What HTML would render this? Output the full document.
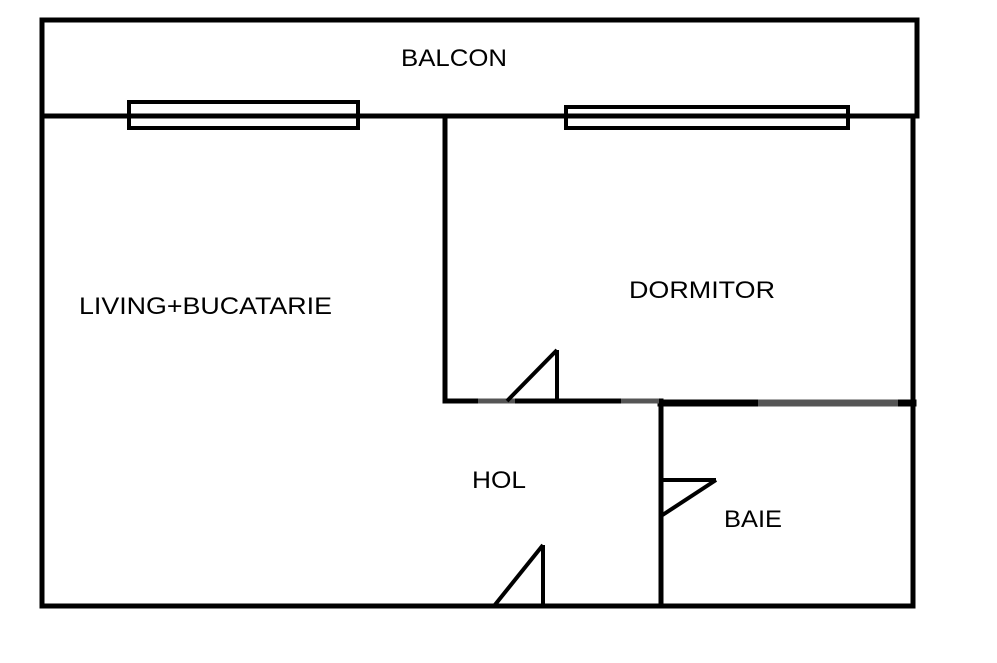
<!DOCTYPE html>
<html><head><style>
body{margin:0;background:#fff;}
svg{display:block;}
text{font-family:"Liberation Sans",sans-serif;font-size:24px;fill:#000;}
</style></head><body>
<svg width="997" height="663" viewBox="0 0 997 663">
<g stroke="#000" stroke-width="5" fill="none" stroke-linecap="square">
<rect x="42" y="20" width="875" height="96"/>
<line x1="42" y1="116" x2="42" y2="606"/>
<line x1="913" y1="116" x2="913" y2="606"/>
<line x1="42" y1="606" x2="913" y2="606"/>
<line x1="445" y1="116" x2="445" y2="401"/>
<line x1="445" y1="401" x2="661" y2="401"/>
<line x1="661" y1="403" x2="913" y2="403" stroke-width="7"/>
<line x1="661" y1="403" x2="661" y2="606"/>
</g>
<g stroke="#555" stroke-width="5">
<line x1="478" y1="401" x2="515" y2="401"/>
<line x1="621" y1="401" x2="659" y2="401"/>
<line x1="758" y1="403" x2="898" y2="403" stroke-width="7"/>
</g>
<g stroke="#000" stroke-width="4" fill="#fff">
<rect x="129" y="102" width="229" height="26"/>
<rect x="566" y="107" width="282" height="21"/>
</g>
<g stroke="#000" stroke-width="5">
<line x1="42" y1="116" x2="913" y2="116"/>
</g>
<g stroke="#000" stroke-width="4" fill="none">
<line x1="557" y1="350" x2="557" y2="401"/>
<line x1="507" y1="401" x2="557" y2="350"/>
<line x1="543" y1="545" x2="543" y2="606"/>
<line x1="494" y1="606" x2="543" y2="545"/>
<line x1="661" y1="480" x2="716" y2="480"/>
<line x1="716" y1="480" x2="661" y2="516"/>
</g>
<text x="401" y="66" textLength="106" lengthAdjust="spacingAndGlyphs">BALCON</text>
<text x="79" y="314" textLength="253" lengthAdjust="spacingAndGlyphs">LIVING+BUCATARIE</text>
<text x="629" y="298" textLength="146" lengthAdjust="spacingAndGlyphs">DORMITOR</text>
<text x="472" y="488" textLength="54" lengthAdjust="spacingAndGlyphs">HOL</text>
<text x="724" y="527" textLength="58" lengthAdjust="spacingAndGlyphs">BAIE</text>
</svg>
</body></html>
